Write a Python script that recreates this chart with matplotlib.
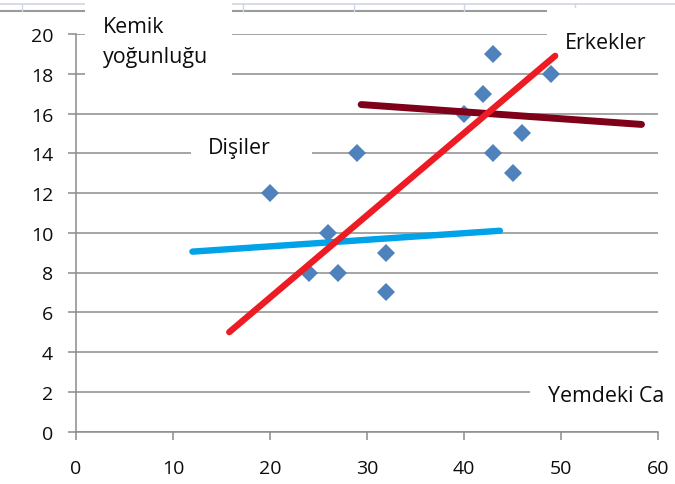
import numpy as np
import matplotlib
matplotlib.use("Agg")
import matplotlib.pyplot as plt
from matplotlib.patches import Rectangle
from matplotlib.lines import Line2D

plt.rcParams['font.family'] = ['Open Sans', 'DejaVu Sans']

#* scatter points (Yemdeki Ca, Kemik yogunlugu)
ca = [20, 24, 26, 27, 29, 32, 32, 40, 42, 43, 43, 45, 46, 49]
kemik = [12, 8, 10, 8, 14, 9, 7, 16, 17, 19, 14, 13, 15, 18]

#* trend lines, end points
red_x = [15.8, 49.4]
red_y = [5.0, 18.9]
dark_x = [29.4, 58.3]
dark_y = [16.45, 15.45]
blue_x = [12.0, 43.7]
blue_y = [9.05, 10.1]

xticks = [0, 10, 20, 30, 40, 50, 60]
yticks = [0, 2, 4, 6, 8, 10, 12, 14, 16, 18, 20]

fig = plt.figure(figsize=(6.75, 4.85), dpi=100)
ax = fig.add_axes([76/675, 1-432.5/485, (658-76)/675, (432.5-35)/485])

GRID = '#8c8c8c'
ax.set_xlim(0, 60)
ax.set_ylim(0, 20)
ax.set_xticks(xticks)
ax.set_yticks(yticks)
ax.set_axisbelow(True)
ax.yaxis.grid(True, color=GRID, linewidth=1.1)
for s in ['top', 'right']:
    ax.spines[s].set_visible(False)
for s in ['left', 'bottom']:
    ax.spines[s].set_color(GRID)
    ax.spines[s].set_linewidth(1.1)
ax.tick_params(axis='y', direction='out', length=5.5, width=1.1, color=GRID,
               pad=11, labelsize=14, labelcolor='#0d0d0d')
ax.tick_params(axis='x', direction='out', length=5.5, width=1.1, color=GRID,
               pad=14, labelsize=14, labelcolor='#0d0d0d')

#* white boxes under the labels (they hide the gridlines)
boxes = [(0.93, 17.3, 15.2, 5.0), (11.86, 13.0, 12.5, 2.5),
         (48.56, 18.8, 14.0, 2.5), (46.8, 0.95, 15.5, 2.1)]
for bx, by, bw, bh in boxes:
    ax.add_patch(Rectangle((bx, by), bw, bh, facecolor='white', edgecolor='none',
                           zorder=1.2, clip_on=False))

ax.plot(blue_x, blue_y, color='#00a2e8', linewidth=4.6, solid_capstyle='round', zorder=3)
ax.plot(ca, kemik, linestyle='none', marker='D', markersize=8.8,
        color='#4f81bd', markeredgewidth=0, zorder=2.5)
ax.plot(dark_x, dark_y, color='#7f0019', linewidth=5.0, solid_capstyle='round', zorder=3)
ax.plot(red_x, red_y, color='#ed1c24', linewidth=4.6, solid_capstyle='round', zorder=4)

tkw = dict(fontsize=15.4, color='#0d0d0d', va='baseline', ha='left', zorder=5, clip_on=False)
ax.text(2.78, 20.12, 'Kemik', **tkw)
ax.text(2.78, 18.6, 'yoğunluğu', **tkw)
ax.text(13.6, 14.02, 'Dişiler', **tkw)
ax.text(50.4, 19.3, 'Erkekler', **tkw)
ax.text(48.7, 1.52, 'Yemdeki Ca', **tkw)

#* leftover spreadsheet border at the very top
H = 485.0
fig.add_artist(Line2D([0, 1], [1-4.5/H, 1-4.5/H], color='#cfd6e4', linewidth=1.2, zorder=-1))
fig.add_artist(Line2D([0, 1], [1-11.5/H, 1-11.5/H], color='#9a9a9a', linewidth=1.5, zorder=-1))
for px in [22, 243, 354, 464, 575]:
    fig.add_artist(Line2D([px/675, px/675], [1-4.5/H, 1-11.5/H], color='#cfd6e4',
                          linewidth=1.0, zorder=-1))

fig.savefig('out.png', dpi=100)
